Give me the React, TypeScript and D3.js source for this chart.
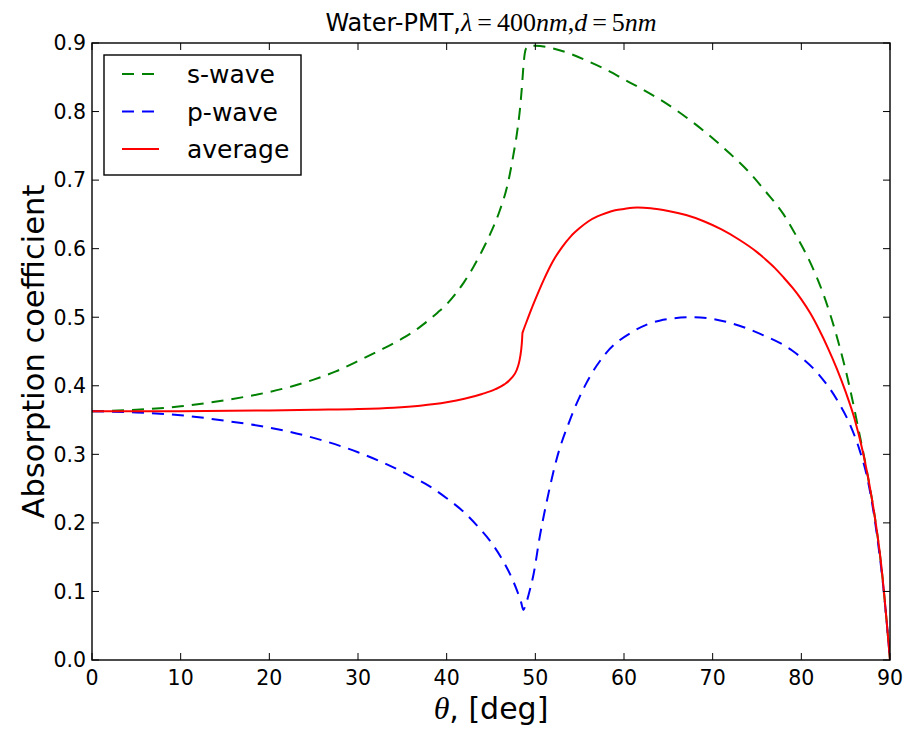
import React from "react";
import * as d3 from "d3";

const xTicks = [0, 10, 20, 30, 40, 50, 60, 70, 80, 90];
const yTicks = [0.0, 0.1, 0.2, 0.3, 0.4, 0.5, 0.6, 0.7, 0.8, 0.9];

const sTheta = [0, 5, 10, 15, 20, 22.5, 25, 27.5, 30, 32.5, 35, 36, 37, 38, 39, 40, 41, 42, 43, 44, 45, 46, 46.9, 47.5, 48.0, 48.3, 48.5, 48.65, 48.8, 49.0, 49.5, 50, 52, 54, 56, 58, 60, 62, 64, 66, 68, 70, 72, 74, 76, 78, 79.5, 81, 82.5, 84, 85.5, 86.5, 87.5, 88.5, 89.2, 89.7, 90];
const sWave = [0.363, 0.365, 0.370, 0.379, 0.391, 0.399, 0.409, 0.421, 0.436, 0.452, 0.469, 0.477, 0.486, 0.496, 0.507, 0.519, 0.534, 0.552, 0.573, 0.597, 0.624, 0.656, 0.695, 0.735, 0.775, 0.808, 0.838, 0.865, 0.884, 0.893, 0.896, 0.896, 0.892, 0.884, 0.873, 0.861, 0.847, 0.833, 0.818, 0.801, 0.782, 0.761, 0.738, 0.713, 0.683, 0.650, 0.617, 0.580, 0.533, 0.472, 0.395, 0.333, 0.268, 0.190, 0.115, 0.045, 0.0];

const pTheta = [0, 5, 10, 15, 20, 25, 30, 33, 36, 38, 40, 42, 43.5, 45, 46.3, 47.3, 48.0, 48.4, 48.65, 48.9, 49.3, 49.8, 50.5, 51.3, 52.4, 53.9, 55.8, 58, 61, 64, 67.8, 71.6, 75.3, 79, 82, 84, 85.5, 86.6, 87.5, 88.5, 89.2, 89.7, 90];
const pWave = [0.363, 0.361, 0.357, 0.349, 0.339, 0.324, 0.303, 0.287, 0.268, 0.254, 0.236, 0.215, 0.195, 0.172, 0.146, 0.121, 0.099, 0.084, 0.073, 0.080, 0.098, 0.125, 0.180, 0.232, 0.293, 0.350, 0.405, 0.448, 0.479, 0.495, 0.500, 0.493, 0.476, 0.451, 0.416, 0.380, 0.343, 0.305, 0.262, 0.185, 0.112, 0.045, 0.0];

const aTheta = [0, 10, 20, 25, 30, 34, 37, 40, 42, 44, 45.5, 46.5, 47.3, 47.9, 48.2, 48.4, 48.5, 48.55, 48.6, 49.0, 49.5, 50, 51, 52, 53, 54, 55, 56, 57, 58, 59, 60, 61.5, 63, 65, 67, 69, 71, 73, 75, 76, 77, 78, 79, 80, 81, 82, 83, 84, 85, 86, 87, 88, 89, 89.6, 90];
const average = [0.363, 0.363, 0.364, 0.365, 0.366, 0.368, 0.371, 0.376, 0.381, 0.388, 0.395, 0.402, 0.411, 0.423, 0.436, 0.452, 0.466, 0.477, 0.479, 0.493, 0.510, 0.526, 0.556, 0.582, 0.602, 0.618, 0.630, 0.640, 0.647, 0.652, 0.656, 0.658, 0.660, 0.659, 0.655, 0.649, 0.640, 0.628, 0.613, 0.595, 0.584, 0.572, 0.558, 0.543, 0.526, 0.506, 0.482, 0.455, 0.425, 0.391, 0.352, 0.300, 0.232, 0.140, 0.060, 0.0];

const seriesNames = ["s-wave", "p-wave", "average"];
const seriesColors = ["#008000", "#0000ff", "#ff0000"];

export default function App() {
  const W = 909, H = 730;
  const left = 92, right = 890, top = 43, bottom = 660;
  const x = d3.scaleLinear().domain([0, 90]).range([left, right]);
  const y = d3.scaleLinear().domain([0, 0.9]).range([bottom, top]);
  const line = d3
    .line<[number, number]>()
    .x((d) => x(d[0]))
    .y((d) => y(d[1]))
    .curve(d3.curveMonotoneX);

  const series = [
    { pts: sTheta.map((t, i) => [t, sWave[i]] as [number, number]), dash: "12,8" },
    { pts: pTheta.map((t, i) => [t, pWave[i]] as [number, number]), dash: "12,8" },
    { pts: aTheta.map((t, i) => [t, average[i]] as [number, number]), dash: undefined },
  ];

  const font = "'DejaVu Sans', sans-serif";
  const mathFont = "'Liberation Serif', 'DejaVu Serif', serif";
  const tickLen = 7;

  return (
    <svg width={W} height={H} style={{ position: "absolute", left: 0, top: 0, background: "#fff" }}>
      <rect x={0} y={0} width={W} height={H} fill="#fff" />
      <defs>
        <clipPath id="plotclip">
          <rect x={left} y={top - 2} width={right - left} height={bottom - top + 2} />
        </clipPath>
      </defs>
      <g clipPath="url(#plotclip)">
        {series.map((s, i) => (
          <path
            key={i}
            d={line(s.pts) || ""}
            fill="none"
            stroke={seriesColors[i]}
            strokeWidth={2}
            strokeDasharray={s.dash}
          />
        ))}
      </g>
      {xTicks.map((t) => (
        <g key={"x" + t}>
          <line x1={x(t)} x2={x(t)} y1={bottom} y2={bottom - tickLen} stroke="#000" strokeWidth={1} />
          <line x1={x(t)} x2={x(t)} y1={top} y2={top + tickLen} stroke="#000" strokeWidth={1} />
          <text x={x(t)} y={685} textAnchor="middle" fontFamily={font} fontSize={20.5} fill="#000">
            {t}
          </text>
        </g>
      ))}
      {yTicks.map((t) => (
        <g key={"y" + t}>
          <line x1={left} x2={left + tickLen} y1={y(t)} y2={y(t)} stroke="#000" strokeWidth={1} />
          <line x1={right} x2={right - tickLen} y1={y(t)} y2={y(t)} stroke="#000" strokeWidth={1} />
          <text x={86} y={y(t)} dy="0.36em" textAnchor="end" fontFamily={font} fontSize={20.5} fill="#000">
            {t.toFixed(1)}
          </text>
        </g>
      ))}
      <rect x={left} y={top} width={right - left} height={bottom - top} fill="none" stroke="#000" strokeWidth={1.4} />
      <text x={(left + right) / 2} y={31} textAnchor="middle" fontSize={24} fill="#000">
        <tspan fontFamily={font}>Water-PMT,</tspan>
        <tspan fontFamily={mathFont} fontStyle="italic" fontSize={26}>λ</tspan>
        <tspan fontFamily={mathFont} fontSize={26} dx={5}>=</tspan>
        <tspan fontFamily={mathFont} fontSize={26} dx={5}>400</tspan>
        <tspan fontFamily={mathFont} fontStyle="italic" fontSize={26}>nm</tspan>
        <tspan fontFamily={mathFont} fontSize={26}>,</tspan>
        <tspan fontFamily={mathFont} fontStyle="italic" fontSize={26}>d</tspan>
        <tspan fontFamily={mathFont} fontSize={26} dx={5}>=</tspan>
        <tspan fontFamily={mathFont} fontSize={26} dx={5}>5</tspan>
        <tspan fontFamily={mathFont} fontStyle="italic" fontSize={26}>nm</tspan>
      </text>
      <text x={(left + right) / 2} y={719} textAnchor="middle" fontSize={30} fill="#000">
        <tspan fontFamily={mathFont} fontStyle="italic" fontSize={32}>θ</tspan>
        <tspan fontFamily={font}>, [deg]</tspan>
      </text>
      <text
        transform={`translate(44,${(top + bottom) / 2}) rotate(-90)`}
        textAnchor="middle"
        fontFamily={font}
        fontSize={30.5}
        fill="#000"
      >
        Absorption coefficient
      </text>
      <g>
        <rect x={104} y={55} width={197} height={120} fill="#fff" stroke="#000" strokeWidth={1.4} />
        {seriesNames.map((n, i) => {
          const yy = 74 + i * 37.5;
          return (
            <g key={n}>
              <line
                x1={122}
                x2={159}
                y1={yy}
                y2={yy}
                stroke={seriesColors[i]}
                strokeWidth={2}
                strokeDasharray={series[i].dash}
              />
              <text x={187} y={yy} dy="0.36em" fontFamily={font} fontSize={25} fill="#000">
                {n}
              </text>
            </g>
          );
        })}
      </g>
    </svg>
  );
}
